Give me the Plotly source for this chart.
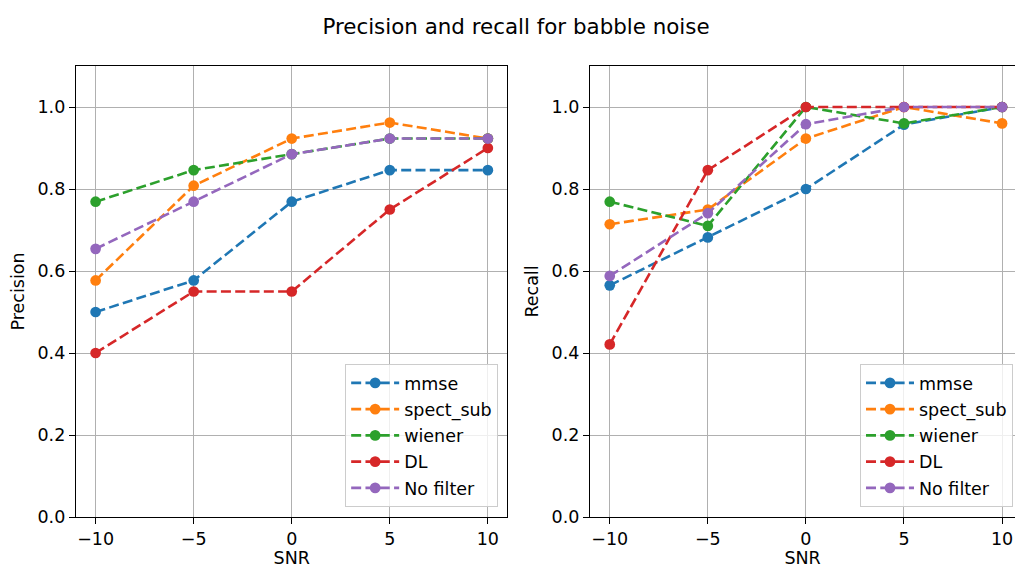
import plotly.graph_objects as go

snr = [-10, -5, 0, 5, 10]
series_names = ["mmse", "spect_sub", "wiener", "DL", "No filter"]
colors = ["#1f77b4", "#ff7f0e", "#2ca02c", "#d62728", "#9467bd"]

precision_mmse = [0.500, 0.577, 0.769, 0.846, 0.846]
precision_spect_sub = [0.577, 0.808, 0.923, 0.962, 0.923]
precision_wiener = [0.769, 0.846, 0.885, 0.923, 0.923]
precision_dl = [0.40, 0.55, 0.55, 0.75, 0.90]
precision_nofilter = [0.654, 0.769, 0.885, 0.923, 0.923]

recall_mmse = [0.565, 0.682, 0.800, 0.957, 1.000]
recall_spect_sub = [0.714, 0.750, 0.923, 1.000, 0.960]
recall_wiener = [0.769, 0.710, 1.000, 0.960, 1.000]
recall_dl = [0.421, 0.846, 1.000, 1.000, 1.000]
recall_nofilter = [0.588, 0.741, 0.958, 1.000, 1.000]

x_tickvals = [-10, -5, 0, 5, 10]
x_ticktext = ["\u221210", "\u22125", "0", "5", "10"]
y_tickvals = [0.0, 0.2, 0.4, 0.6, 0.8, 1.0]
y_ticktext = ["0.0", "0.2", "0.4", "0.6", "0.8", "1.0"]

precision = [precision_mmse, precision_spect_sub, precision_wiener, precision_dl, precision_nofilter]
recall = [recall_mmse, recall_spect_sub, recall_wiener, recall_dl, recall_nofilter]

W, H = 1015, 568
FONT = "DejaVu Sans"
FS = 17.5

# plot area (pixels)
L, R, T, B = 75.7, 1015.0, 65.8, 517.0
PW, PH = R - L, B - T

def px(x):
    return (x - L) / PW

def py(y):
    return (B - y) / PH

fig = go.Figure()
for name, col, vals in zip(series_names, colors, precision):
    fig.add_trace(go.Scatter(
        x=snr, y=vals, name=name, mode="lines+markers",
        line=dict(color=col, width=2.6, dash="10px,4.3px"),
        marker=dict(color=col, size=10.7, line=dict(width=0)),
        xaxis="x", yaxis="y", legend="legend", legendgroup="p" + name,
    ))
for name, col, vals in zip(series_names, colors, recall):
    fig.add_trace(go.Scatter(
        x=snr, y=vals, name=name, mode="lines+markers",
        line=dict(color=col, width=2.6, dash="10px,4.3px"),
        marker=dict(color=col, size=10.7, line=dict(width=0)),
        xaxis="x2", yaxis="y2", legend="legend2", legendgroup="r" + name,
    ))

def xax(domain, rng, anchor):
    return dict(
        domain=domain, range=rng, anchor=anchor, tickvals=x_tickvals, ticktext=x_ticktext,
        showgrid=True, gridcolor="#b0b0b0", gridwidth=1.4,
        showline=True, linecolor="black", linewidth=1.4, mirror=True,
        ticks="outside", ticklen=6, tickwidth=1.4, tickcolor="black",
        zeroline=False, automargin=False,
        tickfont=dict(family=FONT, size=FS, color="black"),
        title=dict(text="SNR", font=dict(family=FONT, size=FS, color="black"), standoff=6),
    )

def yax(anchor, title, mirror):
    return dict(
        domain=[0, 1], range=[0, 1.1], anchor=anchor,
        tickvals=y_tickvals, ticktext=y_ticktext,
        showgrid=True, gridcolor="#b0b0b0", gridwidth=1.4,
        showline=True, linecolor="black", linewidth=1.4, mirror=mirror,
        ticks="outside", ticklen=6, tickwidth=1.4, tickcolor="black",
        zeroline=False, automargin=False,
        tickfont=dict(family=FONT, size=FS, color="black"),
        title=dict(text=title, font=dict(family=FONT, size=FS, color="black"), standoff=8),
    )

legend_common = dict(
    bgcolor="rgba(255,255,255,0.8)", bordercolor="#cccccc", borderwidth=1,
    font=dict(family=FONT, size=FS, color="black"),
    xanchor="right", yanchor="bottom", tracegroupgap=0.5,
    itemwidth=48,
)

fig.update_layout(
    width=W, height=H,
    margin=dict(l=L, r=W - R, t=T, b=H - B, autoexpand=False),
    paper_bgcolor="white", plot_bgcolor="white",
    font=dict(family=FONT, size=FS, color="black"),
    title=dict(text="Precision and recall for babble noise", x=516 / W, xref="container",
               xanchor="center", y=(H - 27) / H, yanchor="middle",
               font=dict(family=FONT, size=21.4, color="black")),
    xaxis=xax([0, px(507.3)], [-11, 11], "y"),
    yaxis=yax("x", "Precision", True),
    xaxis2=xax([px(590), 1.0], [-11, 10.66], "y2"),
    yaxis2=yax("x2", "Recall", False),
    legend=dict(x=px(498), y=py(507), **legend_common),
    legend2=dict(x=px(1013), y=py(507), **legend_common),
    showlegend=True,
)

fig.write_html("out.html")
